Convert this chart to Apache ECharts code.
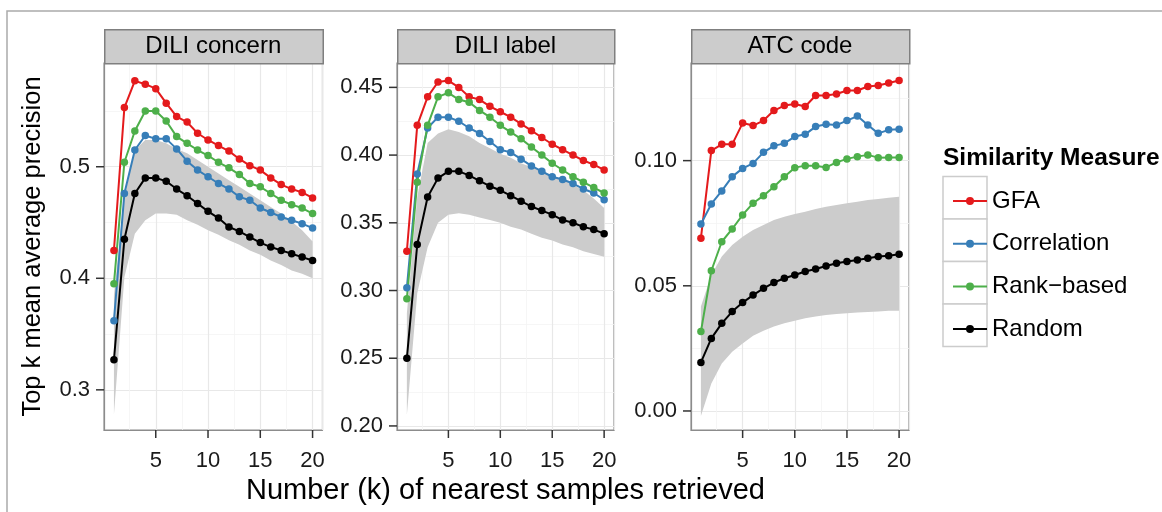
<!DOCTYPE html>
<html>
<head>
<meta charset="utf-8">
<script src="https://cdn.jsdelivr.net/npm/echarts@6/dist/echarts.min.js"></script>
<style>
  html, body { margin: 0; padding: 0; background: #fff; }
  #main { width: 1162px; height: 512px; }
</style>
</head>
<body>
<div id="main"></div>
<script>
// k = number of nearest samples retrieved
var kValues = [1, 2, 3, 4, 5, 6, 7, 8, 9, 10, 11, 12, 13, 14, 15, 16, 17, 18, 19, 20];
var xTicks = [5, 10, 15, 20];
var panelTitles = ['DILI concern', 'DILI label', 'ATC code'];
var measureNames = ['GFA', 'Correlation', 'Rank\u2212based', 'Random'];

// DILI concern
var concernGFA = [0.425, 0.553, 0.577, 0.574, 0.570, 0.557, 0.545, 0.540, 0.530, 0.524, 0.519, 0.514, 0.507, 0.501, 0.497, 0.490, 0.484, 0.480, 0.477, 0.472];
var concernCorr = [0.362, 0.476, 0.515, 0.528, 0.525, 0.525, 0.516, 0.505, 0.497, 0.491, 0.485, 0.480, 0.473, 0.470, 0.463, 0.459, 0.455, 0.452, 0.449, 0.445];
var concernRank = [0.395, 0.504, 0.532, 0.550, 0.550, 0.541, 0.527, 0.521, 0.515, 0.510, 0.504, 0.499, 0.493, 0.485, 0.482, 0.476, 0.470, 0.466, 0.463, 0.458];
var concernRandom = [0.327, 0.435, 0.476, 0.490, 0.490, 0.487, 0.480, 0.474, 0.467, 0.460, 0.454, 0.446, 0.442, 0.437, 0.432, 0.428, 0.425, 0.422, 0.419, 0.416];
var concernLow = [0.278, 0.401, 0.440, 0.452, 0.458, 0.458, 0.457, 0.452, 0.448, 0.443, 0.439, 0.434, 0.430, 0.425, 0.421, 0.416, 0.412, 0.407, 0.404, 0.400];
var concernHigh = [0.385, 0.473, 0.515, 0.524, 0.524, 0.521, 0.516, 0.512, 0.506, 0.500, 0.494, 0.488, 0.482, 0.476, 0.470, 0.464, 0.458, 0.451, 0.443, 0.433];

// DILI label
var labelGFA = [0.329, 0.422, 0.443, 0.454, 0.455, 0.450, 0.443, 0.441, 0.436, 0.432, 0.428, 0.423, 0.418, 0.413, 0.408, 0.404, 0.400, 0.396, 0.393, 0.389];
var labelCorr = [0.302, 0.386, 0.420, 0.428, 0.428, 0.425, 0.420, 0.416, 0.410, 0.404, 0.402, 0.397, 0.392, 0.388, 0.384, 0.382, 0.379, 0.375, 0.372, 0.367];
var labelRank = [0.294, 0.380, 0.422, 0.443, 0.446, 0.441, 0.439, 0.433, 0.428, 0.422, 0.417, 0.412, 0.406, 0.400, 0.394, 0.389, 0.384, 0.380, 0.376, 0.372];
var labelRandom = [0.250, 0.334, 0.369, 0.383, 0.388, 0.388, 0.385, 0.381, 0.377, 0.374, 0.370, 0.366, 0.362, 0.359, 0.356, 0.352, 0.350, 0.347, 0.345, 0.342];
var labelLow = [0.208, 0.298, 0.332, 0.350, 0.356, 0.357, 0.356, 0.354, 0.352, 0.350, 0.347, 0.345, 0.342, 0.339, 0.337, 0.334, 0.332, 0.329, 0.327, 0.325];
var labelHigh = [0.283, 0.369, 0.409, 0.416, 0.419, 0.417, 0.414, 0.409, 0.405, 0.401, 0.398, 0.394, 0.391, 0.388, 0.384, 0.382, 0.378, 0.374, 0.368, 0.361];

// ATC code
var atcGFA = [0.069, 0.104, 0.1065, 0.1065, 0.115, 0.114, 0.116, 0.120, 0.122, 0.1226, 0.1216, 0.126, 0.126, 0.1266, 0.128, 0.128, 0.1296, 0.130, 0.131, 0.132];
var atcCorr = [0.0747, 0.0827, 0.0879, 0.0936, 0.0969, 0.0989, 0.1033, 0.1059, 0.1069, 0.1096, 0.1105, 0.1136, 0.1145, 0.1142, 0.116, 0.1178, 0.1142, 0.1109, 0.1123, 0.1125];
var atcRank = [0.0317, 0.056, 0.0676, 0.0727, 0.0783, 0.083, 0.086, 0.0896, 0.0936, 0.0972, 0.098, 0.098, 0.0973, 0.0993, 0.1007, 0.1016, 0.1023, 0.1012, 0.1013, 0.1013];
var atcRandom = [0.0194, 0.029, 0.035, 0.0397, 0.0433, 0.0463, 0.049, 0.0513, 0.053, 0.0543, 0.0557, 0.0567, 0.0579, 0.059, 0.0597, 0.0603, 0.061, 0.0617, 0.062, 0.0626];
var atcLow = [-0.002, 0.011, 0.019, 0.0237, 0.027, 0.030, 0.032, 0.0337, 0.035, 0.036, 0.037, 0.0377, 0.0383, 0.0387, 0.039, 0.0393, 0.0395, 0.0397, 0.040, 0.040];
var atcHigh = [0.0417, 0.0543, 0.0617, 0.0663, 0.0696, 0.0723, 0.0743, 0.0763, 0.0776, 0.0787, 0.0796, 0.0807, 0.0816, 0.0823, 0.083, 0.0836, 0.0843, 0.0847, 0.0852, 0.0856];

var yTicks = [[0.3, 0.4, 0.5], [0.20, 0.25, 0.30, 0.35, 0.40, 0.45], [0.00, 0.05, 0.10]];
var yDecimals = [1, 2, 2];

var panels = [
    { lines: [concernGFA, concernCorr, concernRank, concernRandom], low: concernLow, high: concernHigh, yMin: 0.264, yMax: 0.593, split: 3, left: 104, width: 218.5 },
    { lines: [labelGFA, labelCorr, labelRank, labelRandom], low: labelLow, high: labelHigh, yMin: 0.197, yMax: 0.468, split: 5, left: 397, width: 217 },
    { lines: [atcGFA, atcCorr, atcRank, atcRandom], low: atcLow, high: atcHigh, yMin: -0.0076, yMax: 0.139, split: 3, left: 691, width: 218 }
];
var colors = ['#E41A1C', '#377EB8', '#4DAF4A', '#000000'];

var FONT = 'Liberation Sans';
var gridTop = 63, gridHeight = 367;
var X_MIN = 0.05, X_MAX = 20.95;

function pairs(xs, ys) {
    var out = [];
    for (var i = 0; i < xs.length; i++) out.push([xs[i], ys[i]]);
    return out;
}

// ribbon drawn as one polygon through the axes' own coord()
function bandRenderer(low, high) {
    return function (params, api) {
        if (params.dataIndex !== 0) return null;
        var top = [], bottom = [];
        for (var j = 0; j < kValues.length; j++) {
            top.push(api.coord([kValues[j], high[j]]));
            bottom.unshift(api.coord([kValues[j], low[j]]));
        }
        return {
            type: 'polygon',
            shape: { points: top.concat(bottom) },
            style: { fill: '#cccccc' }
        };
    };
}

// tick marks ride along with the labels (plain axis ticks at the grid edge do not show)
var xLabelRich = {
    t: { width: 1.5, height: 8, lineHeight: 8, fontSize: 8, backgroundColor: '#333333' },
    v: { fontFamily: FONT, fontSize: 22, color: '#1a1a1a', lineHeight: 46 }
};
var yLabelRich = {
    v: { fontFamily: FONT, fontSize: 22, color: '#1a1a1a', padding: [0, 6, 0, 0] },
    t: { width: 8, height: 1.5, fontSize: 2, lineHeight: 2, backgroundColor: '#333333' }
};

var grids = [], xAxes = [], yAxes = [], series = [], graphics = [];

panels.forEach(function (p, i) {
    grids.push({
        left: p.left, top: gridTop, width: p.width, height: gridHeight,
        show: true, borderColor: '#8c8c8c', borderWidth: 1.2, backgroundColor: 'transparent'
    });
    xAxes.push({
        type: 'value', gridIndex: i, min: X_MIN, max: X_MAX, splitNumber: 4,
        axisLine: { show: true, onZero: false, lineStyle: { color: '#8c8c8c', width: 1.2 } },
        axisTick: { show: false },
        axisLabel: {
            show: true, customValues: xTicks, margin: 0, rich: xLabelRich,
            formatter: function (v) { return '{t| }\n{v|' + v + '}'; }
        },
        splitLine: { show: true, lineStyle: { color: '#e8e8e8', width: 1.2 } },
        minorTick: { show: false, splitNumber: 2 },
        minorSplitLine: { show: true, lineStyle: { color: '#f4f4f4', width: 0.8 } },
        name: i === 1 ? 'Number (k) of nearest samples retrieved' : '',
        nameLocation: 'middle', nameGap: 44,
        nameTextStyle: { fontFamily: FONT, fontSize: 29, color: '#000' }
    });
    yAxes.push({
        type: 'value', gridIndex: i, min: p.yMin, max: p.yMax, splitNumber: p.split,
        axisLine: { show: true, onZero: false, lineStyle: { color: '#8c8c8c', width: 1.2 } },
        axisTick: { show: false },
        axisLabel: {
            show: true, customValues: yTicks[i], margin: 0, rich: yLabelRich,
            formatter: (function (d) { return function (v) { return '{v|' + v.toFixed(d) + '}{t| }'; }; })(yDecimals[i])
        },
        splitLine: { show: true, lineStyle: { color: '#e8e8e8', width: 1.2 } },
        minorTick: { show: false, splitNumber: 2 },
        minorSplitLine: { show: true, lineStyle: { color: '#f4f4f4', width: 0.8 } },
        name: i === 0 ? 'Top k mean average precision' : '',
        nameLocation: 'middle', nameGap: 58, nameRotate: 90,
        nameTextStyle: { fontFamily: FONT, fontSize: 25.5, color: '#000' }
    });

    series.push({
        name: 'band-' + i, type: 'custom', xAxisIndex: i, yAxisIndex: i,
        data: kValues.map(function (k, j) { return [k, p.low[j], p.high[j]]; }),
        encode: { x: 0, y: [1, 2] },
        renderItem: bandRenderer(p.low, p.high),
        clip: true, silent: true, z: 1
    });

    p.lines.forEach(function (vals, m) {
        series.push({
            name: measureNames[m], type: 'line', xAxisIndex: i, yAxisIndex: i,
            data: pairs(kValues, vals), symbol: 'circle', symbolSize: 7.5,
            itemStyle: { color: colors[m] }, lineStyle: { color: colors[m], width: 2 },
            z: 3
        });
    });

    // facet strip
    graphics.push({
        type: 'rect', left: p.left, top: 29,
        shape: { width: p.width, height: 34 },
        style: { fill: '#cccccc', stroke: '#7f7f7f', lineWidth: 1.5 }, z: 5
    });
    graphics.push({
        type: 'text', x: p.left + p.width / 2, y: 46,
        style: { text: panelTitles[i], fontFamily: FONT, fontSize: 24, fill: '#000', textAlign: 'center', textVerticalAlign: 'middle' },
        z: 6
    });
});

// legend title and key boxes
graphics.push({
    type: 'text', x: 943, y: 158,
    style: { text: 'Similarity Measure', fontFamily: FONT, fontSize: 24.5, fontWeight: 'bold', fill: '#000', textVerticalAlign: 'middle' }
});
for (var b = 0; b < 4; b++) {
    graphics.push({
        type: 'rect', x: 943, y: 176.5 + b * 42.5,
        shape: { width: 44, height: 42.5 },
        style: { fill: '#fff', stroke: '#cccccc', lineWidth: 1.5 }, z: 1
    });
}
// outer frame
graphics.push({
    type: 'polyline', shape: { points: [[7, 512], [7, 11], [1162, 11]] },
    style: { stroke: '#aaaaaa', lineWidth: 1.5, fill: null }
});

var myChart = echarts.init(document.getElementById('main'));
var option = {
    animation: false,
    backgroundColor: '#fff',
    grid: grids,
    xAxis: xAxes,
    yAxis: yAxes,
    legend: {
        data: measureNames, orient: 'vertical', left: 948, top: 184,
        itemWidth: 34, itemHeight: 8, itemGap: 18.7,
        icon: 'path://M0,3 L34,3 L34,5 L0,5 Z M21,4 A4,4 0 1,1 13,4 A4,4 0 1,1 21,4 Z',
        textStyle: { fontFamily: FONT, fontSize: 24, color: '#000', lineHeight: 22 },
        selectedMode: false, z: 10
    },
    graphic: graphics,
    series: series
};
myChart.setOption(option);
</script>
</body>
</html>
